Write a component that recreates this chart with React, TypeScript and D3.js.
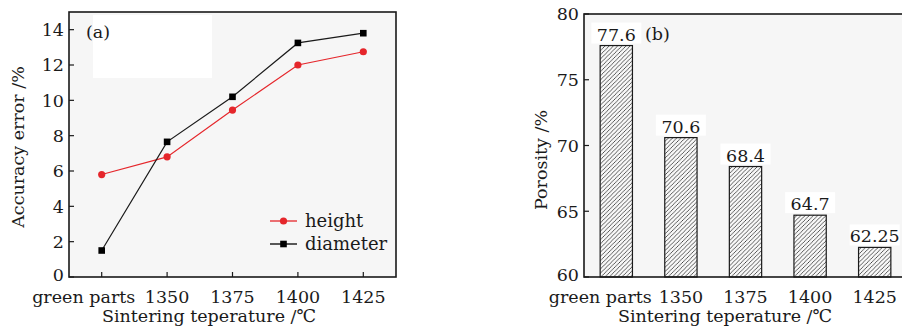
import React, { useEffect, useRef } from 'react';
import * as d3 from 'd3';

const categories = ['green parts', '1350', '1375', '1400', '1425'];
const heightErr = [5.8, 6.8, 9.45, 12.0, 12.75];
const diameterErr = [1.5, 7.65, 10.2, 13.25, 13.8];
const porosity = [77.6, 70.6, 68.4, 64.7, 62.25];
const porosityLabels = ['77.6', '70.6', '68.4', '64.7', '62.25'];
const accuracyTicks = [0, 2, 4, 6, 8, 10, 12, 14];
const porosityTicks = [60, 65, 70, 75, 80];
const seriesNames = ['height', 'diameter'];

const FONT = "'DejaVu Serif', serif";
const FS = 17.5;
const BG = '#f6f6f6';
const INK = '#1a1a1a';
const RED = '#e5262b';
const XLAB_Y = 303;

export default function App() {
  const ref = useRef<SVGSVGElement>(null);

  useEffect(() => {
    const svg = d3.select(ref.current);
    svg.selectAll('*').remove();
    svg.style('font-family', FONT);

    const defs = svg.append('defs');
    const pat = defs.append('pattern')
      .attr('id', 'hatch').attr('patternUnits', 'userSpaceOnUse')
      .attr('width', 4.2).attr('height', 4.2);
    pat.append('rect').attr('width', 4.2).attr('height', 4.2).attr('fill', '#f8f8f8');
    pat.append('path')
      .attr('d', 'M-1,1 l2,-2 M0,4.2 l4.2,-4.2 M3.2,5.2 l2,-2')
      .attr('stroke', '#333').attr('stroke-width', 0.8);

    // ---------- Chart (a) ----------
    const aL = 69, aR = 396, aT = 12, aB = 277;
    const xa = d3.scalePoint<string>().domain(categories).range([aL, aR]).padding(0.5);
    const ya = d3.scaleLinear().domain([0, 15]).range([aB, aT]);
    const ga = svg.append('g');
    ga.append('rect').attr('x', aL).attr('y', aT).attr('width', aR - aL).attr('height', aB - aT)
      .attr('fill', BG);
    ga.append('rect').attr('x', 93).attr('y', 15).attr('width', 119).attr('height', 63).attr('fill', '#fff');

    accuracyTicks.forEach(t => {
      ga.append('line').attr('x1', aL).attr('x2', aL + 5).attr('y1', ya(t)).attr('y2', ya(t))
        .attr('stroke', INK).attr('stroke-width', 1.2);
      ga.append('text').attr('x', aL - 5).attr('y', ya(t) - (t === 0 ? 2 : 0)).attr('dy', '0.36em')
        .attr('text-anchor', 'end').attr('font-size', FS).attr('fill', INK).text(String(t));
    });
    categories.forEach((c, i) => {
      const x = xa(c)!;
      ga.append('line').attr('x1', x).attr('x2', x).attr('y1', aB).attr('y2', aB - 5)
        .attr('stroke', INK).attr('stroke-width', 1.2);
      ga.append('text').attr('x', x + (i === 0 ? -18 : 0)).attr('y', XLAB_Y)
        .attr('text-anchor', 'middle').attr('font-size', FS).attr('fill', INK).text(c);
    });

    const line = d3.line<number>().x((_, i) => xa(categories[i])!).y(d => ya(d));
    ga.append('path').attr('d', line(heightErr)!).attr('fill', 'none').attr('stroke', RED).attr('stroke-width', 1.2);
    ga.append('path').attr('d', line(diameterErr)!).attr('fill', 'none').attr('stroke', INK).attr('stroke-width', 1.2);
    heightErr.forEach((v, i) => {
      ga.append('circle').attr('cx', xa(categories[i])!).attr('cy', ya(v)).attr('r', 3.6).attr('fill', RED);
    });
    diameterErr.forEach((v, i) => {
      ga.append('rect').attr('x', xa(categories[i])! - 3.3).attr('y', ya(v) - 3.3)
        .attr('width', 6.6).attr('height', 6.6).attr('fill', '#000');
    });

    ga.append('rect').attr('x', aL).attr('y', aT).attr('width', aR - aL).attr('height', aB - aT)
      .attr('fill', 'none').attr('stroke', INK).attr('stroke-width', 1.6);

    // legend
    const legY = [221, 244];
    [RED, '#000'].forEach((col, i) => {
      ga.append('line').attr('x1', 270).attr('x2', 297).attr('y1', legY[i]).attr('y2', legY[i])
        .attr('stroke', col).attr('stroke-width', 1.3);
      if (i === 0) ga.append('circle').attr('cx', 283.5).attr('cy', legY[i]).attr('r', 3.6).attr('fill', col);
      else ga.append('rect').attr('x', 280.2).attr('y', legY[i] - 3.3).attr('width', 6.6).attr('height', 6.6).attr('fill', col);
      ga.append('text').attr('x', 305).attr('y', legY[i]).attr('dy', '0.32em').attr('font-size', 18)
        .attr('fill', INK).text(seriesNames[i]);
    });

    ga.append('text').attr('x', 86).attr('y', 38).attr('font-size', FS).attr('fill', INK).text('(a)');
    ga.append('text').attr('x', 209).attr('y', 322).attr('text-anchor', 'middle').attr('font-size', FS)
      .attr('fill', INK).text('Sintering teperature /℃');
    ga.append('text').attr('transform', 'translate(24,147) rotate(-90)').attr('text-anchor', 'middle')
      .attr('font-size', FS).attr('fill', INK).text('Accuracy error /%');

    // ---------- Chart (b) ----------
    const bL = 584, bR = 907, bT = 14, bB = 277;
    const xb = d3.scaleBand<string>().domain(categories).range([bL, bR]).paddingInner(0.5).paddingOuter(0.25);
    const yb = d3.scaleLinear().domain([60, 80]).range([bB, bT]);
    const gb = svg.append('g');
    gb.append('rect').attr('x', bL).attr('y', bT).attr('width', bR - bL).attr('height', bB - bT).attr('fill', BG);

    porosityTicks.forEach(t => {
      gb.append('line').attr('x1', bL).attr('x2', bL + 5).attr('y1', yb(t)).attr('y2', yb(t))
        .attr('stroke', INK).attr('stroke-width', 1.2);
      gb.append('text').attr('x', bL - 5).attr('y', yb(t) - (t === 60 ? 2 : 0)).attr('dy', '0.36em')
        .attr('text-anchor', 'end').attr('font-size', FS).attr('fill', INK).text(String(t));
    });

    porosity.forEach((v, i) => {
      const c = categories[i];
      const x = xb(c)!, w = xb.bandwidth();
      const cx = x + w / 2;
      gb.append('rect').attr('x', cx - 25).attr('y', yb(v) - 23).attr('width', 50).attr('height', 21).attr('fill', '#fff');
      gb.append('rect').attr('x', x).attr('y', yb(v)).attr('width', w).attr('height', yb(60) - yb(v))
        .attr('fill', 'url(#hatch)').attr('stroke', INK).attr('stroke-width', 1.2);
      gb.append('text').attr('x', cx).attr('y', yb(v) - 5).attr('text-anchor', 'middle')
        .attr('font-size', FS).attr('fill', INK).text(porosityLabels[i]);
      gb.append('text').attr('x', cx + (i === 0 ? -16 : 0)).attr('y', XLAB_Y)
        .attr('text-anchor', 'middle').attr('font-size', FS).attr('fill', INK).text(c);
    });

    gb.append('rect').attr('x', bL).attr('y', bT).attr('width', bR - bL).attr('height', bB - bT)
      .attr('fill', 'none').attr('stroke', INK).attr('stroke-width', 1.6);

    gb.append('text').attr('x', 645).attr('y', 40).attr('font-size', FS).attr('fill', INK).text('(b)');
    gb.append('text').attr('x', 725).attr('y', 322).attr('text-anchor', 'middle').attr('font-size', FS)
      .attr('fill', INK).text('Sintering teperature /℃');
    gb.append('text').attr('transform', 'translate(547,160) rotate(-90)').attr('text-anchor', 'middle')
      .attr('font-size', FS).attr('fill', INK).text('Porosity /%');
  }, []);

  return (
    <svg ref={ref} width={902} height={326}
      style={{ position: 'absolute', left: 0, top: 0, background: '#fff' }} />
  );
}
